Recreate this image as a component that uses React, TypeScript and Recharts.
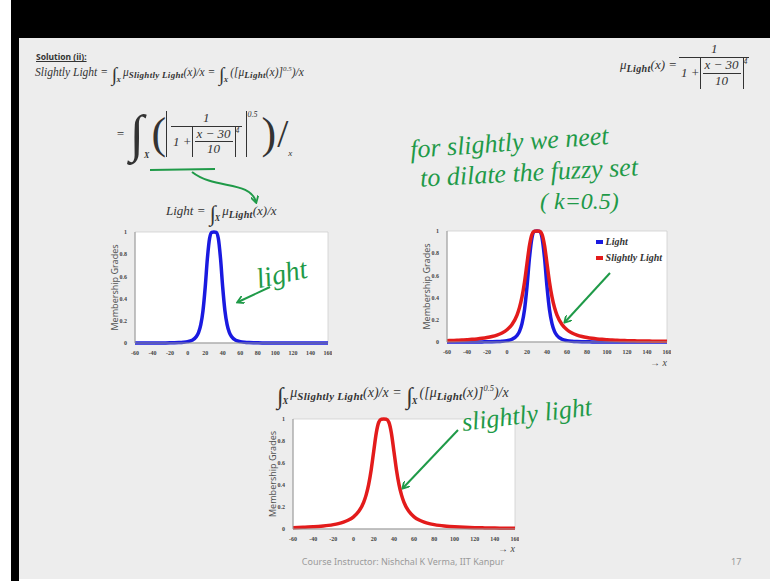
import React from 'react'
import { LineChart, Line, XAxis, YAxis, Legend, ReferenceArea } from 'recharts'

// x positions (sample points) and membership grades
const X_VALUES = [
  -60, -55, -50, -45, -40, -35, -30, -25, -20, -15, -10, -5, 0, 5, 10,
  12.5, 15, 17.5, 20, 22.5, 25, 27.5, 30, 32.5, 35, 37.5, 40, 42.5, 45, 47.5,
  50, 55, 60, 65, 70, 75, 80, 85, 90, 95, 100, 105, 110, 115, 120, 125, 130, 135, 140, 145, 150, 155, 160,
]

const LIGHT = [
  0.0002, 0.0002, 0.0002, 0.0003, 0.0004, 0.0006, 0.0008, 0.0011, 0.0016, 0.0024, 0.0039, 0.0066, 0.0122, 0.025, 0.0588,
  0.0963, 0.165, 0.2906, 0.5, 0.7597, 0.941, 0.9961, 1, 0.9961, 0.941, 0.7597, 0.5, 0.2906, 0.165, 0.0963,
  0.0588, 0.025, 0.0122, 0.0066, 0.0039, 0.0024, 0.0016, 0.0011, 0.0008, 0.0006, 0.0004, 0.0003, 0.0002, 0.0002, 0.0002, 0.0001, 0.0001, 0.0001, 0.0001, 0.0001, 0.0001, 0, 0,
]

const SLIGHTLY_LIGHT = [
  0.0123, 0.0138, 0.0156, 0.0178, 0.0204, 0.0237, 0.0278, 0.033, 0.04, 0.0493, 0.0624, 0.0814, 0.1104, 0.1581, 0.2425,
  0.3103, 0.4061, 0.5391, 0.7071, 0.8716, 0.9701, 0.998, 1, 0.998, 0.9701, 0.8716, 0.7071, 0.5391, 0.4061, 0.3103,
  0.2425, 0.1581, 0.1104, 0.0814, 0.0624, 0.0493, 0.04, 0.033, 0.0278, 0.0237, 0.0204, 0.0178, 0.0156, 0.0138, 0.0123, 0.011, 0.01, 0.0091, 0.0083, 0.0076, 0.0069, 0.0064, 0.0059,
]

const X_TICKS = [-60, -40, -20, 0, 20, 40, 60, 80, 100, 120, 140, 160]
const Y_TICKS = [0, 0.2, 0.4, 0.6, 0.8, 1]

const data = X_VALUES.map((x, i) => ({ x, light: LIGHT[i], slightly: SLIGHTLY_LIGHT[i] }))

const BLUE = '#1a1ae0'
const RED = '#e31b1b'
const GREEN = '#1f9a48'
const INK = '#333'
const mathFont = '"Liberation Serif", "DejaVu Serif", serif'
const sansFont = '"Noto Sans", "Liberation Sans", sans-serif'

const Int = ({ sub, size = '1.7em' }: { sub: string; size?: string }) => (
  <span style={{ whiteSpace: 'nowrap', margin: '0 1px' }}>
    <span style={{ fontSize: size, fontStyle: 'normal', verticalAlign: '-0.28em', lineHeight: 1 }}>∫</span>
    <span style={{ fontSize: '0.62em', verticalAlign: '-0.8em', marginLeft: -1, marginRight: 1, fontWeight: 'bold' }}>{sub}</span>
  </span>
)

const Mu = ({ sub }: { sub: string }) => (
  <span>
    μ<span style={{ fontSize: '0.78em', fontWeight: 'bold', verticalAlign: '-0.25em', letterSpacing: 0.3 }}>{sub}</span>
  </span>
)

const Frac = ({ num, den }: { num: React.ReactNode; den: React.ReactNode }) => (
  <span style={{ display: 'inline-flex', flexDirection: 'column', alignItems: 'center', verticalAlign: 'middle', margin: '0 2px' }}>
    <span style={{ padding: '0 2px', lineHeight: 1.15 }}>{num}</span>
    <span style={{ borderTop: `1px solid ${INK}`, padding: '0 2px', lineHeight: 1.15, alignSelf: 'stretch', textAlign: 'center' }}>{den}</span>
  </span>
)

const AbsFrac = () => (
  <span style={{ display: 'inline-flex', alignItems: 'center' }}>
    <span style={{ borderLeft: `1px solid ${INK}`, borderRight: `1px solid ${INK}`, display: 'inline-flex' }}>
      <Frac num="x − 30" den="10" />
    </span>
    <span style={{ fontSize: '0.6em', alignSelf: 'flex-start' }}>4</span>
  </span>
)

const LegendBox = ({ payload }: any) => (
  <div style={{ background: '#fff', padding: '1px 3px', fontFamily: mathFont, fontStyle: 'italic', fontWeight: 'bold', fontSize: 10, color: INK }}>
    {(payload || []).map((p: any) => (
      <div key={p.value} style={{ display: 'flex', alignItems: 'center', lineHeight: '16px' }}>
        <span style={{ width: 7, height: 3.5, background: p.color, marginRight: 3 }} />
        {p.value}
      </div>
    ))}
  </div>
)

function GradeChart({ left, top, width, height, light, slightly, legend }: {
  left: number; top: number; width: number; height: number; light?: boolean; slightly?: boolean; legend?: boolean
}) {
  return (
    <div style={{ position: 'absolute', left, top }}>
      <LineChart width={width} height={height} data={data} margin={{ top: 5, right: 4, left: 0, bottom: 0 }}>
        <ReferenceArea x1={-60} x2={160} y1={0} y2={1} fill="#fff" fillOpacity={1} stroke="#cfcfcf" strokeWidth={0.8} />
        <XAxis
          type="number"
          dataKey="x"
          domain={[-60, 160]}
          ticks={X_TICKS}
          interval={0}
          height={14}
          tickLine={false}
          tickMargin={2}
          axisLine={{ stroke: '#999' }}
          tick={{ fontSize: 6, fill: '#444', fontFamily: mathFont, fontWeight: 'bold' }}
        />
        <YAxis
          domain={[0, 1]}
          ticks={Y_TICKS}
          interval={0}
          width={42}
          tickLine={false}
          tickMargin={2}
          axisLine={{ stroke: '#999' }}
          tick={{ fontSize: 6, fill: '#444', fontFamily: mathFont, fontWeight: 'bold' }}
          label={{ value: 'Membership Grades', angle: -90, position: 'insideLeft', offset: 22, style: { textAnchor: 'middle', fontSize: 9, fill: '#555', fontFamily: sansFont } }}
        />
        {light && (
          <Line type="monotone" dataKey="light" name="Light" stroke={BLUE} strokeWidth={3.5} dot={false} isAnimationActive={false} />
        )}
        {slightly && (
          <Line type="monotone" dataKey="slightly" name="Slightly Light" stroke={RED} strokeWidth={3.5} dot={false} isAnimationActive={false} />
        )}
        {legend && (
          <Legend
            layout="vertical"
            align="center"
            verticalAlign="middle"
            content={<LegendBox />}
            wrapperStyle={{ top: 7, right: 6, left: 'auto', width: 'auto', height: 'auto' }}
          />
        )}
      </LineChart>
    </div>
  )
}

export default function App() {
  const hand: React.CSSProperties = { position: 'absolute', fontFamily: mathFont, fontStyle: 'italic', color: GREEN, whiteSpace: 'nowrap' }
  const math: React.CSSProperties = { position: 'absolute', fontFamily: mathFont, fontStyle: 'italic', color: INK, whiteSpace: 'nowrap' }
  return (
    <div style={{ position: 'absolute', left: 0, top: 0, width: 770, height: 581, background: '#fff', overflow: 'hidden' }}>
      <div style={{ position: 'absolute', left: 11, top: 0, width: 759, height: 38, background: '#000' }} />
      <div style={{ position: 'absolute', left: 11, top: 0, width: 8, height: 581, background: '#000' }} />
      <div style={{ position: 'absolute', left: 19, top: 38, width: 751, height: 541, background: '#ededed' }} />

      {/* formulas */}
      <div style={{ position: 'absolute', left: 36, top: 51, fontFamily: sansFont, fontWeight: 'bold', fontSize: 8.5, color: INK, textDecoration: 'underline' }}>
        Solution (ii):
      </div>
      <div style={{ ...math, left: 35, top: 65, fontSize: 11.5 }}>
        Slightly Light = <Int sub="X" /><Mu sub="Slightly Light" />(x)/x = <Int sub="X" />([<Mu sub="Light" />(x)]<sup style={{ fontSize: '0.6em' }}>0.5</sup>)/x
      </div>
      <div style={{ ...math, left: 620, top: 42, fontSize: 13, display: 'flex', alignItems: 'center' }}>
        <Mu sub="Light" />(x) =
        <Frac num="1" den={<span style={{ display: 'inline-flex', alignItems: 'center' }}>1 + <AbsFrac /></span>} />
      </div>
      <div style={{ ...math, left: 116, top: 108, fontSize: 13, display: 'flex', alignItems: 'center' }}>
        <span style={{ marginRight: 5 }}>=</span>
        <span style={{ fontSize: 52, fontStyle: 'normal', lineHeight: 1 }}>∫</span>
        <span style={{ fontSize: 8, alignSelf: 'flex-end', marginBottom: 0, marginRight: 2, fontWeight: 'bold' }}>X</span>
        <span style={{ fontSize: 44, fontStyle: 'normal', lineHeight: 1 }}>(</span>
        <span style={{ borderLeft: `1px solid ${INK}`, borderRight: `1px solid ${INK}`, padding: '0 2px', display: 'inline-flex' }}>
          <Frac num="1" den={<span style={{ display: 'inline-flex', alignItems: 'center' }}>1 + <AbsFrac /></span>} />
        </span>
        <span style={{ fontSize: 8, alignSelf: 'flex-start', marginTop: 2, marginLeft: 1, marginRight: 4 }}>0.5</span>
        <span style={{ fontSize: 44, fontStyle: 'normal', lineHeight: 1 }}>)</span>
        <span style={{ fontSize: 40, fontStyle: 'normal', lineHeight: 1, marginLeft: 1 }}>/</span>
        <span style={{ fontSize: 9, alignSelf: 'flex-end', marginBottom: 2 }}>x</span>
      </div>
      <div style={{ ...math, left: 166, top: 203, fontSize: 13 }}>
        Light = <Int sub="X" /><Mu sub="Light" />(x)/x
      </div>
      <div style={{ ...math, left: 276, top: 384, fontSize: 14 }}>
        <Int sub="X" /><Mu sub="Slightly Light" />(x)/x = <Int sub="X" />([<Mu sub="Light" />(x)]<sup style={{ fontSize: '0.6em' }}>0.5</sup>)/x
      </div>

      <GradeChart left={93} top={227} width={239} height={130} light />
      <GradeChart left={405} top={226} width={266} height={130} light slightly legend />
      <GradeChart left={251} top={414} width={268} height={129} slightly />

      <div style={{ ...math, left: 650, top: 357, fontSize: 10, color: '#444' }}>→ x</div>
      <div style={{ ...math, left: 498, top: 543, fontSize: 10, color: '#444' }}>→ x</div>

      <div style={{ position: 'absolute', left: 0, width: 806, top: 555, textAlign: 'center', fontFamily: sansFont, fontSize: 9, color: '#9a9a9a' }}>
        Course Instructor: Nishchal K Verma, IIT Kanpur
      </div>
      <div style={{ position: 'absolute', left: 731, top: 555, fontFamily: sansFont, fontSize: 9, color: '#9a9a9a' }}>17</div>

      {/* handwriting, drawn over the slide and plots */}
      <div style={{ ...hand, left: 410, top: 128, fontSize: 26, transform: 'rotate(-4deg)' }}>for slightly we neet</div>
      <div style={{ ...hand, left: 420, top: 158, fontSize: 26, transform: 'rotate(-3deg)' }}>to dilate the fuzzy set</div>
      <div style={{ ...hand, left: 540, top: 188, fontSize: 24 }}>( k=0.5)</div>
      <div style={{ ...hand, left: 256, top: 258, fontSize: 28, transform: 'rotate(-12deg)' }}>light</div>
      <div style={{ ...hand, left: 462, top: 408, fontSize: 26, transform: 'rotate(-7deg)', transformOrigin: 'left center' }}>slightly light</div>

      {/* green pen arrows */}
      <svg width={770} height={581} style={{ position: 'absolute', left: 0, top: 0, pointerEvents: 'none' }}>
        <defs>
          <marker id="head" markerWidth="8" markerHeight="8" refX="6" refY="4" orient="auto" markerUnits="userSpaceOnUse">
            <path d="M0,0 L7,4 L0,8" fill="none" stroke={GREEN} strokeWidth={1.8} />
          </marker>
        </defs>
        <path d="M150 170 L215 169" stroke={GREEN} strokeWidth={2.2} fill="none" />
        <path d="M192 172 C 215 190, 250 180, 256 202" stroke={GREEN} strokeWidth={2} fill="none" markerEnd="url(#head)" />
        <path d="M270 287 L238 302" stroke={GREEN} strokeWidth={2} fill="none" markerEnd="url(#head)" />
        <path d="M610 273 L565 322" stroke={GREEN} strokeWidth={2} fill="none" markerEnd="url(#head)" />
        <path d="M458 430 L403 488" stroke={GREEN} strokeWidth={2} fill="none" markerEnd="url(#head)" />
      </svg>
    </div>
  )
}
